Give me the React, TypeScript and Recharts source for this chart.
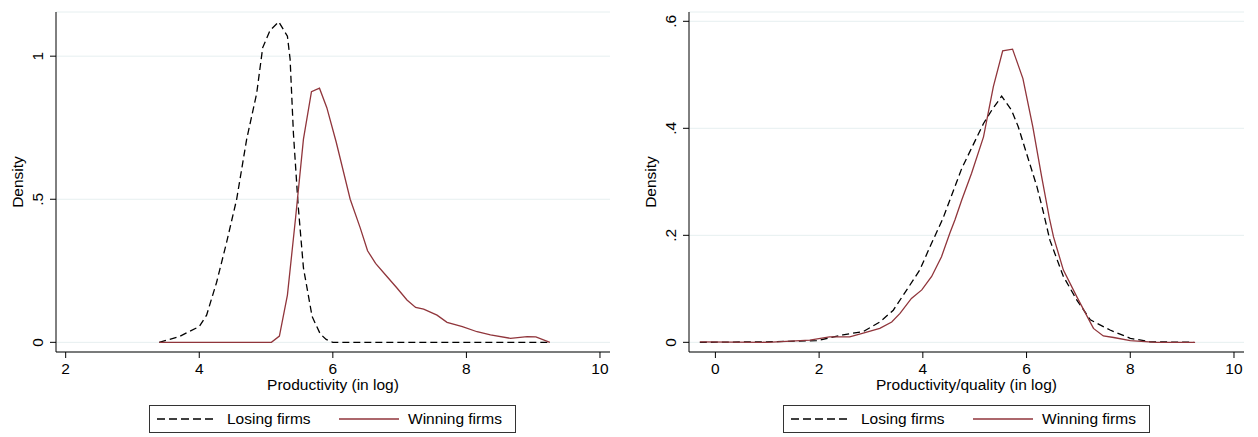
import React from 'react';
import { LineChart, Line, XAxis, YAxis, CartesianGrid, Legend } from 'recharts';

const FONT = '"Liberation Sans", Arial, Helvetica, sans-serif';
const MAROON = '#90353b';
const FS = 15.5;

// Left panel: Productivity (in log)
const leftLosing = [
  { x: 3.4, y: 0 }, { x: 3.7, y: 0.02 }, { x: 4.0, y: 0.055 }, { x: 4.11, y: 0.095 },
  { x: 4.26, y: 0.21 }, { x: 4.41, y: 0.35 }, { x: 4.56, y: 0.5 }, { x: 4.71, y: 0.71 },
  { x: 4.86, y: 0.87 }, { x: 4.95, y: 1.03 }, { x: 5.06, y: 1.09 }, { x: 5.19, y: 1.12 },
  { x: 5.32, y: 1.07 }, { x: 5.36, y: 0.99 }, { x: 5.41, y: 0.73 }, { x: 5.48, y: 0.48 },
  { x: 5.56, y: 0.26 }, { x: 5.69, y: 0.09 }, { x: 5.81, y: 0.03 }, { x: 5.9, y: 0.01 },
  { x: 6.0, y: 0 }, { x: 9.25, y: 0 },
];
const leftWinning = [
  { x: 3.4, y: 0 }, { x: 5.08, y: 0 }, { x: 5.2, y: 0.022 }, { x: 5.32, y: 0.165 },
  { x: 5.44, y: 0.43 }, { x: 5.56, y: 0.71 }, { x: 5.68, y: 0.876 }, { x: 5.8, y: 0.888 },
  { x: 5.91, y: 0.82 }, { x: 6.05, y: 0.7 }, { x: 6.26, y: 0.5 }, { x: 6.41, y: 0.4 },
  { x: 6.52, y: 0.32 }, { x: 6.64, y: 0.276 }, { x: 6.81, y: 0.23 }, { x: 6.96, y: 0.19 },
  { x: 7.11, y: 0.148 }, { x: 7.24, y: 0.122 }, { x: 7.36, y: 0.116 }, { x: 7.56, y: 0.095 },
  { x: 7.71, y: 0.07 }, { x: 7.94, y: 0.055 }, { x: 8.16, y: 0.037 }, { x: 8.36, y: 0.026 },
  { x: 8.66, y: 0.014 }, { x: 8.91, y: 0.02 }, { x: 9.04, y: 0.019 }, { x: 9.25, y: 0 },
];

// Right panel: Productivity/quality (in log)
const rightLosing = [
  { x: -0.3, y: 0 }, { x: 1.0, y: 0.001 }, { x: 1.95, y: 0.003 }, { x: 2.46, y: 0.014 },
  { x: 2.85, y: 0.02 }, { x: 3.17, y: 0.038 }, { x: 3.43, y: 0.06 }, { x: 3.69, y: 0.098 },
  { x: 3.94, y: 0.135 }, { x: 4.14, y: 0.179 }, { x: 4.39, y: 0.232 }, { x: 4.75, y: 0.325 },
  { x: 4.97, y: 0.369 }, { x: 5.17, y: 0.409 }, { x: 5.33, y: 0.434 }, { x: 5.52, y: 0.46 },
  { x: 5.71, y: 0.434 }, { x: 5.84, y: 0.403 }, { x: 6.0, y: 0.353 }, { x: 6.2, y: 0.291 },
  { x: 6.32, y: 0.245 }, { x: 6.45, y: 0.191 }, { x: 6.71, y: 0.123 }, { x: 6.97, y: 0.079 },
  { x: 7.23, y: 0.042 }, { x: 7.61, y: 0.023 }, { x: 8.0, y: 0.0075 }, { x: 8.38, y: 0.001 },
  { x: 9.22, y: 0 },
];
const rightWinning = [
  { x: -0.3, y: 0.001 }, { x: 1.0, y: 0 }, { x: 1.82, y: 0.004 }, { x: 2.2, y: 0.01 },
  { x: 2.59, y: 0.01 }, { x: 2.85, y: 0.017 }, { x: 3.17, y: 0.026 }, { x: 3.4, y: 0.038 },
  { x: 3.56, y: 0.054 }, { x: 3.78, y: 0.082 }, { x: 3.98, y: 0.098 }, { x: 4.17, y: 0.123 },
  { x: 4.36, y: 0.16 }, { x: 4.52, y: 0.204 }, { x: 4.62, y: 0.229 }, { x: 4.75, y: 0.266 },
  { x: 4.94, y: 0.316 }, { x: 5.17, y: 0.384 }, { x: 5.36, y: 0.478 }, { x: 5.54, y: 0.545 },
  { x: 5.73, y: 0.548 }, { x: 5.93, y: 0.493 }, { x: 6.12, y: 0.403 }, { x: 6.29, y: 0.31 },
  { x: 6.44, y: 0.232 }, { x: 6.52, y: 0.197 }, { x: 6.71, y: 0.135 }, { x: 6.97, y: 0.085 },
  { x: 7.29, y: 0.026 }, { x: 7.48, y: 0.012 }, { x: 7.68, y: 0.009 }, { x: 8.0, y: 0.003 },
  { x: 8.5, y: 0 }, { x: 9.25, y: 0 },
];

const leftXTicks = [2, 4, 6, 8, 10];
const leftYTicks = [0, 0.5, 1];
const rightXTicks = [0, 2, 4, 6, 8, 10];
const rightYTicks = [0, 0.2, 0.4, 0.6];

const seriesNames = ['Losing firms', 'Winning firms'];

const fmt = (v: number) => (v === 0 ? '0' : String(v).replace(/^0\./, '.'));

function YTick(props: any) {
  const { x, y, payload } = props;
  return (
    <text
      x={0}
      y={0}
      transform={`translate(${x - 5},${y}) rotate(-90)`}
      textAnchor="middle"
      fontSize={FS}
      fontFamily={FONT}
      fill="#000"
    >
      {fmt(payload.value)}
    </text>
  );
}

function LegendBox({ width, boxLeft }: { width: number; boxLeft: number }) {
  const text: React.CSSProperties = {
    position: 'absolute',
    top: 0,
    fontSize: FS,
    lineHeight: '26px',
    fontFamily: FONT,
    color: '#000',
    whiteSpace: 'nowrap',
  };
  return (
    <div style={{ position: 'relative', width, height: 47 }}>
      <div
        style={{
          position: 'absolute',
          left: boxLeft,
          top: 15,
          width: 367,
          height: 28,
          boxSizing: 'border-box',
          border: '1px solid #333',
          background: '#fff',
        }}
      >
        <svg style={{ position: 'absolute', left: 7, top: 12 }} width={60} height={2}>
          <line x1={0} y1={1} x2={60} y2={1} stroke="#000" strokeWidth={1.3} strokeDasharray="8 4" />
        </svg>
        <span style={{ ...text, left: 77 }}>{seriesNames[0]}</span>
        <svg style={{ position: 'absolute', left: 189, top: 12 }} width={60} height={2}>
          <line x1={0} y1={1} x2={60} y2={1} stroke={MAROON} strokeWidth={1.3} />
        </svg>
        <span style={{ ...text, left: 258 }}>{seriesNames[1]}</span>
      </div>
    </div>
  );
}

type PanelProps = {
  width: number;
  yAxisWidth: number;
  marginRight: number;
  xDomain: [number, number];
  yDomain: [number, number];
  xTicks: number[];
  yTicks: number[];
  xLabel: string;
  densityOffset: number;
  boxLeft: number;
  losing: { x: number; y: number }[];
  winning: { x: number; y: number }[];
};

function Panel(p: PanelProps) {
  return (
    <LineChart width={p.width} height={437} margin={{ top: 12, right: p.marginRight, bottom: 0, left: 0 }}>
      <CartesianGrid horizontal vertical={false} stroke="#e6eff0" strokeWidth={1} />
      <XAxis
        type="number"
        dataKey="x"
        domain={p.xDomain}
        ticks={p.xTicks}
        allowDataOverflow
        interval={0}
        height={38}
        tickSize={6}
        tickMargin={5}
        stroke="#000"
        tickLine={{ stroke: '#000' }}
        axisLine={{ stroke: '#000' }}
        tick={{ fontSize: FS, fill: '#000', fontFamily: FONT }}
        label={{ value: p.xLabel, position: 'insideBottom', offset: 0, fontSize: FS, fill: '#000', fontFamily: FONT }}
      />
      <YAxis
        type="number"
        dataKey="y"
        domain={p.yDomain}
        ticks={p.yTicks}
        allowDataOverflow
        interval={0}
        width={p.yAxisWidth}
        tickSize={6}
        tickMargin={2}
        stroke="#000"
        tickLine={{ stroke: '#000' }}
        axisLine={{ stroke: '#000' }}
        tick={<YTick />}
        label={{
          value: 'Density',
          angle: -90,
          position: 'insideLeft',
          offset: p.densityOffset,
          fontSize: FS,
          fill: '#000',
          fontFamily: FONT,
          style: { textAnchor: 'middle' },
        }}
      />
      <Line
        data={p.losing}
        dataKey="y"
        name={seriesNames[0]}
        type="linear"
        stroke="#000"
        strokeWidth={1.3}
        strokeDasharray="7 4"
        dot={false}
        activeDot={false}
        isAnimationActive={false}
      />
      <Line
        data={p.winning}
        dataKey="y"
        name={seriesNames[1]}
        type="linear"
        stroke={MAROON}
        strokeWidth={1.3}
        dot={false}
        activeDot={false}
        isAnimationActive={false}
      />
      <Legend
        verticalAlign="bottom"
        wrapperStyle={{ left: 0, top: 390, width: p.width, height: 47 }}
        content={() => <LegendBox width={p.width} boxLeft={p.boxLeft} />}
      />
    </LineChart>
  );
}

export default function App() {
  return (
    <div
      style={{
        position: 'absolute',
        left: 0,
        top: 0,
        width: 1258,
        height: 437,
        background: '#fff',
        fontFamily: FONT,
      }}
    >
      <div style={{ position: 'absolute', left: 0, top: 0 }}>
        <Panel
          width={625}
          yAxisWidth={56}
          marginRight={15}
          xDomain={[1.855, 10.15]}
          yDomain={[-0.0338, 1.1544]}
          xTicks={leftXTicks}
          yTicks={leftYTicks}
          xLabel="Productivity (in log)"
          densityOffset={17}
          boxLeft={149}
          losing={leftLosing}
          winning={leftWinning}
        />
      </div>
      <div style={{ position: 'absolute', left: 630, top: 0 }}>
        <Panel
          width={628}
          yAxisWidth={59}
          marginRight={14}
          xDomain={[-0.509, 10.193]}
          yDomain={[-0.0181, 0.6174]}
          xTicks={rightXTicks}
          yTicks={rightYTicks}
          xLabel="Productivity/quality (in log)"
          densityOffset={20}
          boxLeft={153}
          losing={rightLosing}
          winning={rightWinning}
        />
      </div>
    </div>
  );
}
